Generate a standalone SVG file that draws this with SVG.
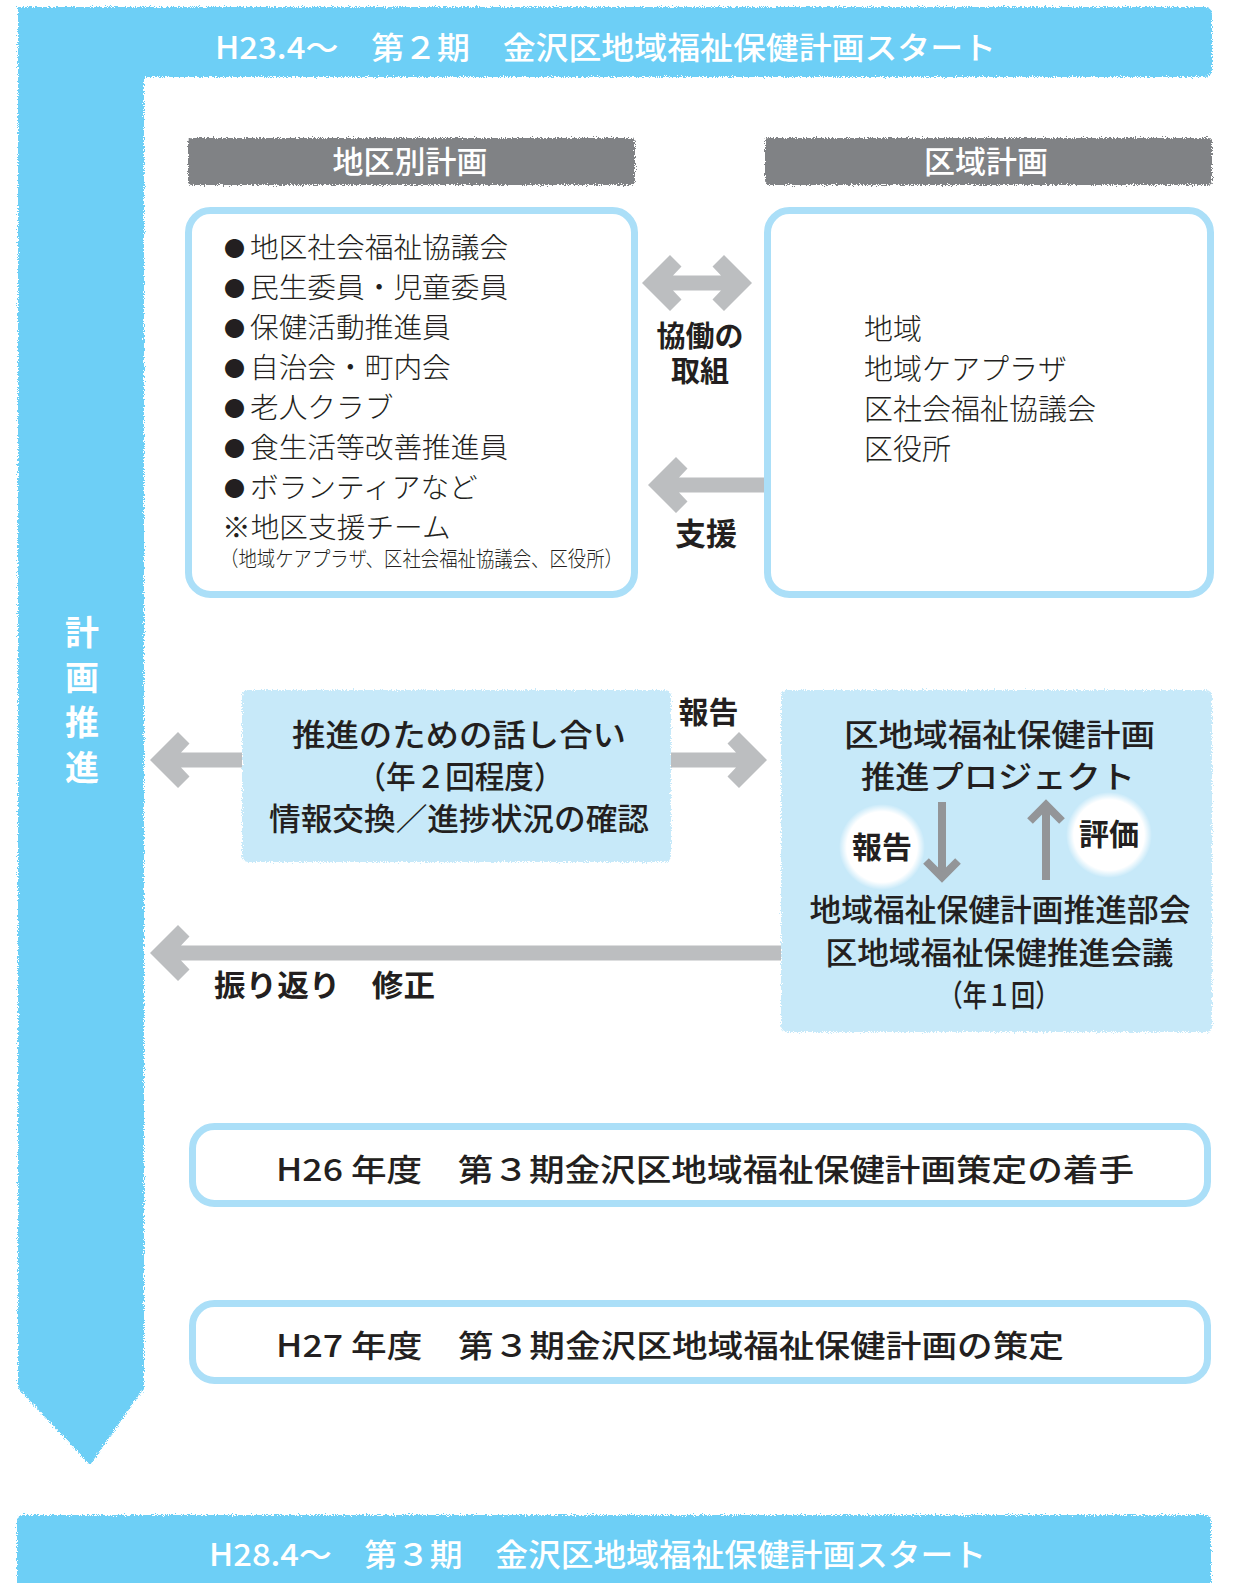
<svg xmlns="http://www.w3.org/2000/svg" width="1237" height="1583" viewBox="0 0 1237 1583">
<style>
.jp{font-family:"Noto Sans CJK JP","Noto Sans",sans-serif;}
.wt{fill:#ffffff;font-weight:500;}
.dk{fill:#231f20;}
.bd{font-weight:700;}
.lt{font-weight:300;}
.bul{font-size:21px;}
.frame{fill:none;stroke:#abdff8;stroke-width:7;}
.lblue{fill:#c7e9f9;}
.gbar{fill:#808285;}
.cyan{fill:#6dcff6;}
.arr{fill:#bcbec0;}
.thin{fill:none;stroke:#939598;stroke-width:8;stroke-miterlimit:10;}
</style>
<defs>
<filter id="rough" x="-3%" y="-3%" width="106%" height="106%">
<feTurbulence type="fractalNoise" baseFrequency="0.9" numOctaves="2" seed="3" result="n"/>
<feDisplacementMap in="SourceGraphic" in2="n" scale="6" xChannelSelector="R" yChannelSelector="G"/>
</filter>
<radialGradient id="glow" cx="0.5" cy="0.5" r="0.5">
<stop offset="0" stop-color="#ffffff"/>
<stop offset="0.82" stop-color="#ffffff"/>
<stop offset="1" stop-color="#ffffff" stop-opacity="0"/>
</radialGradient>
</defs>
<rect width="1237" height="1583" fill="#ffffff"/>

<g id="flow-bar">
<path class="cyan" filter="url(#rough)" d="M18,7 H1204 Q1212,7 1212,15 V69 Q1212,77 1204,77 H144 V1388 L90,1465 L18,1388 Z"/>
<text class="jp wt" font-size="31" x="215" y="59" textLength="781" lengthAdjust="spacingAndGlyphs">H23.4～　第２期　金沢区地域福祉保健計画スタート</text>
<g class="jp wt bd" font-size="34" text-anchor="middle">
<text x="82" y="645">計</text>
<text x="82" y="690">画</text>
<text x="82" y="735">推</text>
<text x="82" y="780">進</text>
</g>
</g>

<g id="header-district">
<rect class="gbar" filter="url(#rough)" x="188" y="138" width="447" height="47" rx="4"/>
<text class="jp wt" font-size="31" x="410" y="173" text-anchor="middle">地区別計画</text>
</g>

<g id="header-area">
<rect class="gbar" filter="url(#rough)" x="765" y="138" width="447" height="47" rx="4"/>
<text class="jp wt" font-size="31" x="986" y="173" text-anchor="middle">区域計画</text>
</g>

<g id="district-box">
<rect class="frame" x="188.5" y="210.5" width="446" height="384" rx="22"/>
<g class="jp dk lt" font-size="28.7">
<text x="224" y="258"><tspan class="bul" dy="-2">●</tspan><tspan dx="5" dy="2">地区社会福祉協議会</tspan></text>
<text x="224" y="298"><tspan class="bul" dy="-2">●</tspan><tspan dx="5" dy="2">民生委員・児童委員</tspan></text>
<text x="224" y="338"><tspan class="bul" dy="-2">●</tspan><tspan dx="5" dy="2">保健活動推進員</tspan></text>
<text x="224" y="378"><tspan class="bul" dy="-2">●</tspan><tspan dx="5" dy="2">自治会・町内会</tspan></text>
<text x="224" y="418"><tspan class="bul" dy="-2">●</tspan><tspan dx="5" dy="2">老人クラブ</tspan></text>
<text x="224" y="458"><tspan class="bul" dy="-2">●</tspan><tspan dx="5" dy="2">食生活等改善推進員</tspan></text>
<text x="224" y="498"><tspan class="bul" dy="-2">●</tspan><tspan dx="5" dy="2">ボランティアなど</tspan></text>
<text x="222" y="538">※地区支援チーム</text>
</g>
<text class="jp dk lt" font-size="21" x="220" y="566" textLength="403" lengthAdjust="spacingAndGlyphs">（地域ケアプラザ、区社会福祉協議会、区役所）</text>
</g>

<g id="area-box">
<rect class="frame" x="767.5" y="210.5" width="443" height="384" rx="22"/>
<g class="jp dk lt" font-size="29">
<text x="864" y="340">地域</text>
<text x="864" y="380">地域ケアプラザ</text>
<text x="864" y="420">区社会福祉協議会</text>
<text x="864" y="460">区役所</text>
</g>
</g>

<g id="talk-box">
<rect class="lblue" filter="url(#rough)" x="242" y="690" width="429" height="172" rx="6"/>
<g class="jp dk" font-size="31" font-weight="500" text-anchor="middle">
<text x="459" y="746" textLength="334" lengthAdjust="spacingAndGlyphs">推進のための話し合い</text>
<text x="460" y="788" textLength="207" lengthAdjust="spacingAndGlyphs">（年２回程度）</text>
<text x="459" y="830" textLength="380" lengthAdjust="spacingAndGlyphs">情報交換／進捗状況の確認</text>
</g>
</g>

<g id="project-box">
<rect class="lblue" filter="url(#rough)" x="781" y="690" width="431" height="342" rx="6"/>
<g class="jp dk" font-size="31" font-weight="500" text-anchor="middle">
<text x="999.5" y="746" textLength="311" lengthAdjust="spacingAndGlyphs">区地域福祉保健計画</text>
<text x="998" y="788" textLength="274" lengthAdjust="spacingAndGlyphs">推進プロジェクト</text>
<text x="1000" y="921" textLength="381" lengthAdjust="spacingAndGlyphs">地域福祉保健計画推進部会</text>
<text x="999.5" y="964" textLength="348" lengthAdjust="spacingAndGlyphs">区地域福祉保健推進会議</text>
<text x="999" y="1006" font-size="30" textLength="121" lengthAdjust="spacingAndGlyphs">（年１回）</text>
</g>
<circle cx="882" cy="847" r="43" fill="url(#glow)"/>
<circle cx="1109" cy="835" r="43" fill="url(#glow)"/>
<text class="jp dk bd" font-size="30" x="882" y="858" text-anchor="middle">報告</text>
<text class="jp dk bd" font-size="30" x="1109" y="845" text-anchor="middle">評価</text>
</g>

<g id="h26-box">
<rect class="frame" x="192.5" y="1126.5" width="1015" height="77" rx="22"/>
<text class="jp dk" font-size="31" font-weight="500" x="276" y="1181" textLength="858" lengthAdjust="spacingAndGlyphs">H26 年度　第３期金沢区地域福祉保健計画策定の着手</text>
</g>

<g id="h27-box">
<rect class="frame" x="192.5" y="1303.5" width="1015" height="77" rx="22"/>
<text class="jp dk" font-size="31" font-weight="500" x="276" y="1357" textLength="788" lengthAdjust="spacingAndGlyphs">H27 年度　第３期金沢区地域福祉保健計画の策定</text>
</g>

<g id="next-banner">
<rect class="cyan" filter="url(#rough)" x="17" y="1515" width="1194" height="80" rx="6"/>
<text class="jp wt" font-size="31" x="209" y="1566" textLength="777" lengthAdjust="spacingAndGlyphs">H28.4～　第３期　金沢区地域福祉保健計画スタート</text>
</g>

<g id="connectors">
<polygon class="arr" points="642,283 670,255 681.5,266.5 673,275.5 721,275.5 712.5,266.5 724,255 752,283 724,311 712.5,299.5 721,290.5 673,290.5 681.5,299.5 670,311"/>
<polygon class="arr" points="648,485 676,457 687.5,468.5 679,477.5 764,477.5 764,492.5 679,492.5 687.5,501.5 676,513"/>
<polygon class="arr" points="150,760 178,732 189.5,743.5 181,752.5 242,752.5 242,767.5 181,767.5 189.5,776.5 178,788"/>
<polygon class="arr" points="767,760 739,732 727.5,743.5 736,752.5 671,752.5 671,767.5 736,767.5 727.5,776.5 739,788"/>
<polygon class="arr" points="150,953 178,925 189.5,936.5 181,945.5 781,945.5 781,960.5 181,960.5 189.5,969.5 178,981"/>
<line class="thin" x1="942" y1="802" x2="942" y2="876"/>
<polyline class="thin" points="926,861 942,877 958,861"/>
<line class="thin" x1="1046" y1="806" x2="1046" y2="880"/>
<polyline class="thin" points="1030,821 1046,805 1062,821"/>
</g>

<g id="labels">
<g class="jp dk bd" text-anchor="middle">
<text font-size="29" x="700" y="347">協働の<tspan x="700" dy="35">取組</tspan></text>
<text font-size="31" x="706" y="545">支援</text>
<text font-size="30" x="708.5" y="723">報告</text>
</g>
<text class="jp dk bd" font-size="30" x="214" y="996" textLength="221" lengthAdjust="spacingAndGlyphs">振り返り　修正</text>
</g>
</svg>
